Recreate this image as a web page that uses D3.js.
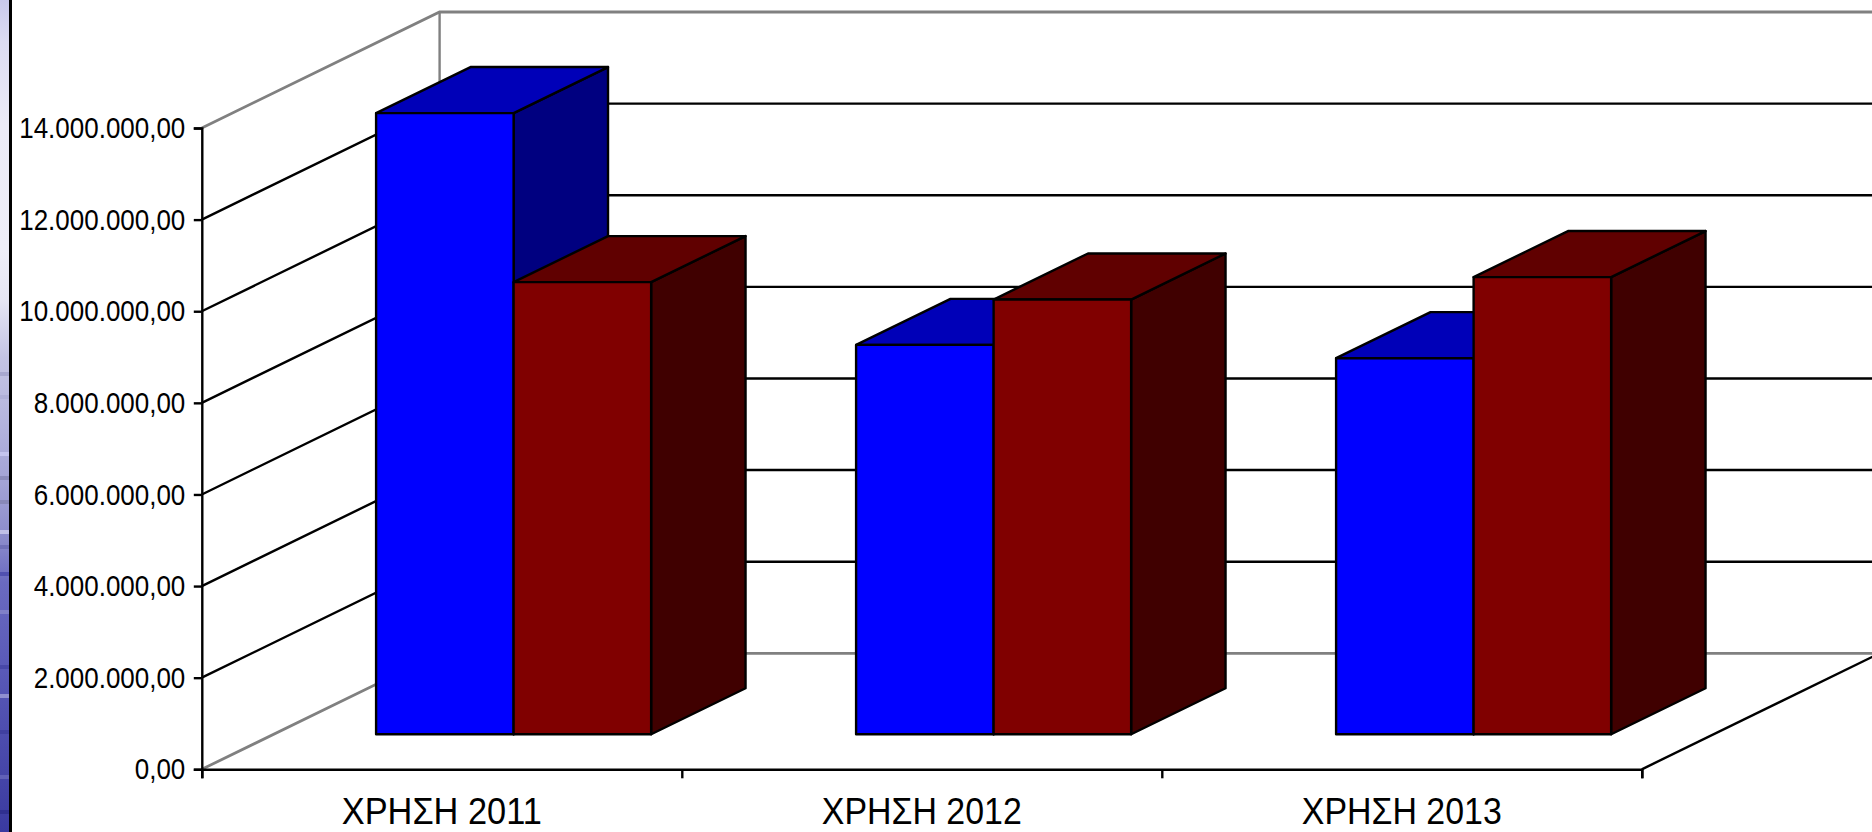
<!DOCTYPE html>
<html>
<head>
<meta charset="utf-8">
<script src="https://cdnjs.cloudflare.com/ajax/libs/d3/7.8.5/d3.min.js"></script>
<style>
    html, body { margin: 0; background: #fff; overflow: hidden; }
    text { font-family: "Liberation Sans", Arial, sans-serif; fill: #000; }
</style>
</head>
<body>
<svg id="chart" width="1872" height="832"></svg>
<script>
const categories = ['ΧΡΗΣΗ 2011', 'ΧΡΗΣΗ 2012', 'ΧΡΗΣΗ 2013'];
const seriesNames = ['a', 'b'];
const seriesA = [13560000, 8500000, 8210000];
const seriesB = [9870000, 9490000, 9980000];
const yTicks = [0, 2000000, 4000000, 6000000, 8000000, 10000000, 12000000, 14000000];

const frontColors = ['#0000ff', '#800000'];
const topColors = ['#0000b8', '#600000'];
const sideColors = ['#000080', '#400000'];

const plot = {left: 201.8, right: 1641.8, top: 128, bottom: 769.3};
// floor depth, the whole box is sheared by this
const depth = {dx: 237.8, dy: -116};
// bars stand between these fractions of the floor depth
const barZ = [0.302, 0.699];
const labelScale = 0.866;

const svg = d3.select('#chart');
const y = d3.scaleLinear().domain([0, 14000000]).range([plot.bottom, plot.top]);
const x = d3.scaleBand().domain(categories).range([plot.left, plot.right])
    .paddingInner(0.427).paddingOuter(0.2135);
const xSeries = d3.scaleBand().domain(seriesNames).range([0, x.bandwidth()]);
const xEdge = d3.scaleLinear().domain([0, categories.length]).range([plot.left, plot.right]);

const numFormat = d3.formatLocale({decimal: ',', thousands: '.', grouping: [3], currency: ['', '']}).format(',.2f');

const project = (px, py, z) => [px + depth.dx * z, py + depth.dy * z];
const line = d3.line();

// textured strip at the left edge, it comes from the slide behind the chart
const defs = svg.append('defs');
const strip = defs.append('linearGradient').attr('id', 'strip')
    .attr('x1', 0).attr('y1', 0).attr('x2', 0).attr('y2', 1);
[[0, '#c9c9ec'], [0.05, '#dcdcf2'], [0.15, '#ecebf7'], [0.3, '#eeeef8'], [0.36, '#e6e6f4'],
 [0.43, '#c4c4e4'], [0.5, '#b6b6de'], [0.58, '#a3a3d6'], [0.65, '#8a8acb'], [0.7, '#6a6ac0'],
 [0.8, '#5a5ab8'], [0.9, '#4a4aac'], [1, '#3a3aa0']]
    .forEach(s => strip.append('stop').attr('offset', s[0]).attr('stop-color', s[1]));
svg.append('rect').attr('width', 9).attr('height', 832).attr('fill', 'url(#strip)');
// a few of the darker and lighter streaks in the lower part of the strip
[[372, '#a8a8d0'], [395, '#b0b0d8'], [452, '#c4c4ee'], [476, '#8c8cbc'], [500, '#8888b8'], [530, '#c0c0e8'],
 [545, '#7070b8'], [572, '#5050b0'], [610, '#8080c8'], [665, '#4848a8'], [694, '#9090d0'], [730, '#4040a0'], [775, '#6060b8'], [810, '#303090']]
    .forEach(r => svg.append('rect').attr('y', r[0]).attr('width', 9).attr('height', 4).attr('fill', r[1]));
svg.append('rect').attr('x', 9).attr('width', 3).attr('height', 832).attr('fill', '#000');

// walls: gridlines run along the side wall, then along the back wall
yTicks.forEach(v => {
    const isEdge = v === 0 || v === 14000000;
    const a = [plot.left, y(v)];
    const b = project(plot.left, y(v), 1);
    const c = project(plot.right, y(v), 1);
    svg.append('path')
        .attr('d', line([a, b, c]))
        .attr('fill', 'none')
        .attr('stroke', isEdge ? '#808080' : '#000')
        .attr('stroke-width', isEdge ? 2.8 : 2.4);
});
// back corner of the walls
svg.append('path')
    .attr('d', line([project(plot.left, y(0), 1), project(plot.left, y(14000000), 1)]))
    .attr('stroke', '#808080').attr('stroke-width', 2.4).attr('fill', 'none');
// right side of the floor
svg.append('path')
    .attr('d', line([[plot.right, y(0)], project(plot.right, y(0), 1)]))
    .attr('stroke', '#000').attr('stroke-width', 2.4).attr('fill', 'none');

// bars, back to front is the same as left to right here
categories.forEach((cat, i) => {
    [seriesA, seriesB].forEach((values, s) => {
        const x0 = x(cat) + xSeries(seriesNames[s]);
        const x1 = x0 + xSeries.bandwidth();
        const yT = y(values[i]);
        const yB = y(0);
        const faces = [
            {
                color: sideColors[s],
                pts: [project(x1, yT, barZ[0]), project(x1, yT, barZ[1]), project(x1, yB, barZ[1]), project(x1, yB, barZ[0])]
            },
            {
                color: topColors[s],
                pts: [project(x0, yT, barZ[0]), project(x0, yT, barZ[1]), project(x1, yT, barZ[1]), project(x1, yT, barZ[0])]
            },
            {
                color: frontColors[s],
                pts: [project(x0, yT, barZ[0]), project(x1, yT, barZ[0]), project(x1, yB, barZ[0]), project(x0, yB, barZ[0])]
            }
        ];
        svg.append('g').selectAll('path')
            .data(faces).enter().append('path')
            .attr('d', d => line(d.pts) + 'Z')
            .attr('fill', d => d.color)
            .attr('stroke', '#000')
            .attr('stroke-width', 2.4)
            .attr('stroke-linejoin', 'round');
    });
});

// value axis
const yAxis = svg.append('g')
    .attr('transform', `translate(${plot.left},0)`)
    .call(d3.axisLeft(y).tickValues(yTicks).tickFormat(numFormat).tickSize(8));
yAxis.selectAll('.domain, .tick line').attr('stroke', '#000').attr('stroke-width', 2.4);
yAxis.selectAll('.tick text')
    .attr('font-size', 30)
    .attr('font-family', '"Liberation Sans", Arial, sans-serif')
    .attr('x', -16.5 / labelScale)
    .attr('transform', `scale(${labelScale},1)`);

// category axis, ticks sit between the categories
const xAxis = svg.append('g')
    .attr('transform', `translate(0,${plot.bottom})`)
    .call(d3.axisBottom(xEdge).tickValues(d3.range(categories.length + 1)).tickFormat('').tickSize(9));
xAxis.selectAll('.domain, .tick line').attr('stroke', '#000').attr('stroke-width', 2.4);

svg.append('g').selectAll('text')
    .data(categories).enter().append('text')
    .attr('x', d => x(d) + x.bandwidth() / 2)
    .attr('y', 824)
    .attr('text-anchor', 'middle')
    .attr('font-size', 36)
    .attr('textLength', 200)
    .attr('lengthAdjust', 'spacingAndGlyphs')
    .text(d => d);
</script>
</body>
</html>
